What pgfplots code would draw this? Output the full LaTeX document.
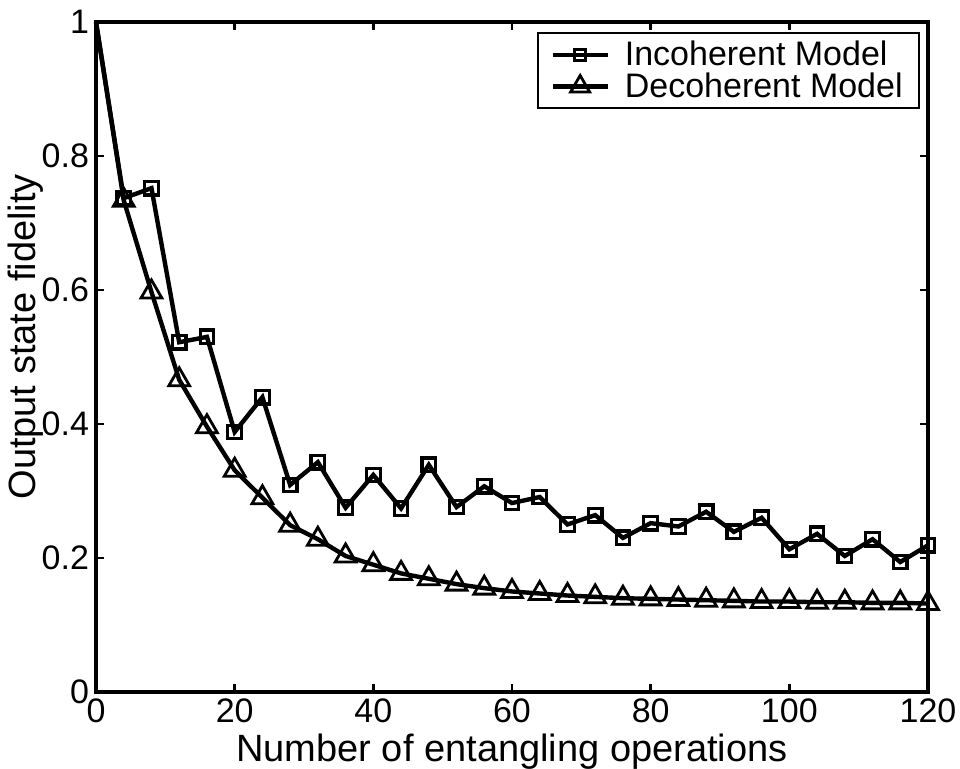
\documentclass[border=0pt]{standalone}
\usepackage{pgfplots}
\pgfplotsset{compat=1.18}
\usepackage{pgfplotstable}
\usepackage{fontspec}
\setmainfont{Liberation Sans}

\pgfplotstableread{
x inc dec
0 1 1
4 0.737 0.734
8 0.752 0.597
12 0.522 0.466
16 0.530 0.396
20 0.388 0.331
24 0.440 0.290
28 0.309 0.249
32 0.343 0.228
36 0.275 0.203
40 0.324 0.190
44 0.274 0.177
48 0.339 0.169
52 0.276 0.161
56 0.307 0.155
60 0.282 0.150
64 0.291 0.147
68 0.250 0.144
72 0.264 0.142
76 0.230 0.140
80 0.252 0.139
84 0.247 0.138
88 0.269 0.137
92 0.239 0.136
96 0.260 0.135
100 0.213 0.135
104 0.236 0.134
108 0.203 0.134
112 0.228 0.133
116 0.194 0.133
120 0.219 0.132
}\datatable

\begin{document}
\begin{tikzpicture}
\begin{axis}[
  scale only axis,
  width=416pt, height=335pt,
  xmin=0, xmax=120, ymin=0, ymax=1,
  xtick={0,20,...,120},
  ytick={0,0.2,0.4,0.6,0.8,1},
  yticklabel style={/pgf/number format/.cd,fixed,precision=1},
  /pgf/number format/assume math mode=true,
  tick label style={font=\fontsize{17}{20}\selectfont},
  tick align=inside,
  major tick length=4pt,
  every tick/.style={black, line width=1.4pt},
  axis line style={line width=1.6pt},
  clip=false,
  every axis x label/.style={at={(axis description cs:0.5,0)},anchor=center,yshift=-30pt},
  every axis y label/.style={at={(axis description cs:-0.0845,0.53)},rotate=90,anchor=center},
  label style={font=\fontsize{19}{22}\selectfont},
  xlabel={Number of entangling operations},
  ylabel={Output state fidelity},
  legend style={at={(rel axis cs:0.990,0.985)}, anchor=north east,
    draw=black, line width=1pt, font=\fontsize{17}{20}\selectfont,
    inner xsep=6pt, inner ysep=2pt, row sep=-2pt,
    nodes={inner sep=2pt}},
  legend cell align=left,
]
\addplot[black, line width=2.2pt, forget plot] table[x=x,y=inc] {\datatable};
\addplot[black, line width=2.2pt, only marks, mark=square, mark size=3.4pt,
  mark options={line width=1.6pt},
  skip coords between index={0}{1},
  legend image code/.code={
    \draw[line width=2.2pt] (0pt,0pt) -- (27.5pt,0pt);
    \draw[line width=1.5pt] plot[mark=square, mark size=2.8pt] coordinates {(13.75pt,0pt)};
    \path (33pt,0pt);
  }] table[x=x,y=inc] {\datatable};
\addlegendentry{Incoherent Model}
\addplot[black, line width=2.2pt, forget plot] table[x=x,y=dec] {\datatable};
\addplot[black, line width=2.2pt, only marks, mark=triangle, mark size=6pt,
  mark options={line width=1.4pt},
  skip coords between index={0}{1},
  legend image code/.code={
    \draw[line width=2.2pt] (0pt,0pt) -- (27.5pt,0pt);
    \draw[line width=1.4pt] plot[mark=triangle, mark size=5.5pt] coordinates {(13.75pt,0pt)};
    \path (33pt,0pt);
  }] table[x=x,y=dec] {\datatable};
\addlegendentry{Decoherent Model}
\coordinate (A) at (rel axis cs:0,0);
\coordinate (B) at (rel axis cs:1,1);
\end{axis}
\pgfresetboundingbox
\useasboundingbox ([shift={(-48pt,-38.5pt)}]A) rectangle ([shift={(16pt,11pt)}]B);
\end{tikzpicture}
\end{document}
